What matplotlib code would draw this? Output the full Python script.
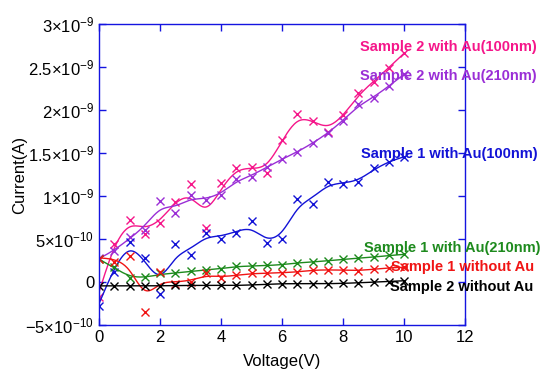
import numpy as np
import matplotlib
matplotlib.use("Agg")
import matplotlib.pyplot as plt
from matplotlib.ticker import FixedLocator, FixedFormatter

plt.rcParams['font.family'] = ['Liberation Sans', 'DejaVu Sans']
plt.rcParams['mathtext.fontset'] = 'custom'
plt.rcParams['mathtext.rm'] = 'Liberation Sans'
plt.rcParams['mathtext.it'] = 'Liberation Sans'

voltage = np.arange(0, 10.01, 0.5)

s2_au100 = [-0.17, 0.44, 0.72, 0.56, 0.69, 0.925, 1.14, 0.63, 1.15, 1.33, 1.34,
            1.27, 1.65, 1.95, 1.87, 1.75, 1.94, 2.20, 2.32, 2.49, 2.66]
s2_au210 = [0.277, 0.365, 0.52, 0.60, 0.937, 0.80, 1.015, 0.95, 1.015, 1.20, 1.22,
            1.34, 1.43, 1.51, 1.62, 1.73, 1.87, 2.065, 2.135, 2.28, 2.415]
s1_au100 = [-0.277, 0.12, 0.47, 0.277, -0.144, 0.443, 0.315, 0.565, 0.50, 0.565, 0.705,
            0.45, 0.50, 0.97, 0.91, 1.16, 1.145, 1.16, 1.32, 1.40, 1.45]
s1_au210 = [0.265, 0.18, 0.052, 0.058, 0.10, 0.10, 0.124, 0.14, 0.153, 0.182, 0.185,
            0.192, 0.199, 0.225, 0.233, 0.245, 0.265, 0.277, 0.288, 0.31, 0.32]
s1_noau = [0.268, 0.237, 0.298, -0.347, 0.12, -0.025, 0.0, 0.10, 0.043, 0.08, 0.10,
           0.10, 0.11, 0.113, 0.14, 0.14, 0.14, 0.13, 0.15, 0.167, 0.17]
s2_noau = [-0.045, -0.045, -0.045, -0.045, -0.045, -0.04, -0.04, -0.04, -0.04, -0.04, -0.035,
           -0.025, -0.02, -0.02, -0.02, -0.02, -0.015, -0.01, 0.0, 0.004, 0.015]

series = [
    ("Sample 2 with Au(100nm)", s2_au100, '#f5168a', (8.56, 2.73)),
    ("Sample 2 with Au(210nm)", s2_au210, '#9a2ed6', (8.56, 2.39)),
    ("Sample 1 with Au(100nm)", s1_au100, '#1212d6', (8.59, 1.49)),
    ("Sample 1 with Au(210nm)", s1_au210, '#1d8a1d', (8.69, 0.397)),
    ("Sample 1 without Au", s1_noau, '#f01414', (9.57, 0.175)),
    ("Sample 2 without Au", s2_noau, '#000000', (9.54, -0.06)),
]


def smooth_curve(x, y, lam=0.02, step=0.025):
    xg = np.arange(x[0], x[-1] + step / 2, step)
    n = len(xg)
    W = np.zeros(n)
    yv = np.zeros(n)
    idx = np.rint((np.asarray(x) - x[0]) / step).astype(int)
    W[idx] = 1.0
    yv[idx] = y
    D = np.diff(np.eye(n), 2, axis=0)
    A = np.diag(W) + (lam / step ** 3) * D.T @ D
    z = np.linalg.solve(A, W * yv)
    return xg, z


fig = plt.figure(figsize=(5.44, 3.80), dpi=100)
ax = fig.add_axes([99 / 544, 1 - 325 / 380, (465 - 99) / 544, (325 - 24) / 380])

for name, vals, col, (tx, ty) in series:
    vals = np.array(vals) * 1e-9
    xg, z = smooth_curve(voltage, vals / 1e-9)
    ax.plot(xg, z * 1e-9, color=col, lw=1.0)
    ax.plot(voltage, vals, 'x', color=col, ms=6, mew=1.0)
    ax.text(tx, ty * 1e-9, name, color=col, fontsize=10.5, fontweight='bold',
            va='center', ha='left', clip_on=False, zorder=5)

ax.set_xlim(0, 12)
ax.set_ylim(-5e-10, 3e-9)

xt = [0, 2, 4, 6, 8, 10, 12]
ax.xaxis.set_major_locator(FixedLocator(xt))
ax.xaxis.set_major_formatter(FixedFormatter([str(v) for v in xt]))

yt = [-5e-10, 0, 5e-10, 1e-9, 1.5e-9, 2e-9, 2.5e-9, 3e-9]
ylab = [r'$-5{\times}10^{-10}$', '0', r'$5{\times}10^{-10}$', r'$1{\times}10^{-9}$',
        r'$1.5{\times}10^{-9}$', r'$2{\times}10^{-9}$', r'$2.5{\times}10^{-9}$',
        r'$3{\times}10^{-9}$']
ax.yaxis.set_major_locator(FixedLocator(yt))
ax.yaxis.set_major_formatter(FixedFormatter(ylab))

axis_col = '#1414e0'
for sp in ax.spines.values():
    sp.set_color(axis_col)
    sp.set_linewidth(1.0)
ax.tick_params(direction='in', length=5, width=1, color=axis_col,
               top=True, right=True, labelsize=12, labelcolor='black')

ax.set_xlabel('Voltage(V)', fontsize=12)
ax.set_ylabel('Current(A)', fontsize=12)
ax.xaxis.set_label_coords(0.5, -0.096)
ax.yaxis.set_label_coords(-0.197, 0.5)

fig.savefig('out.png', dpi=100)
